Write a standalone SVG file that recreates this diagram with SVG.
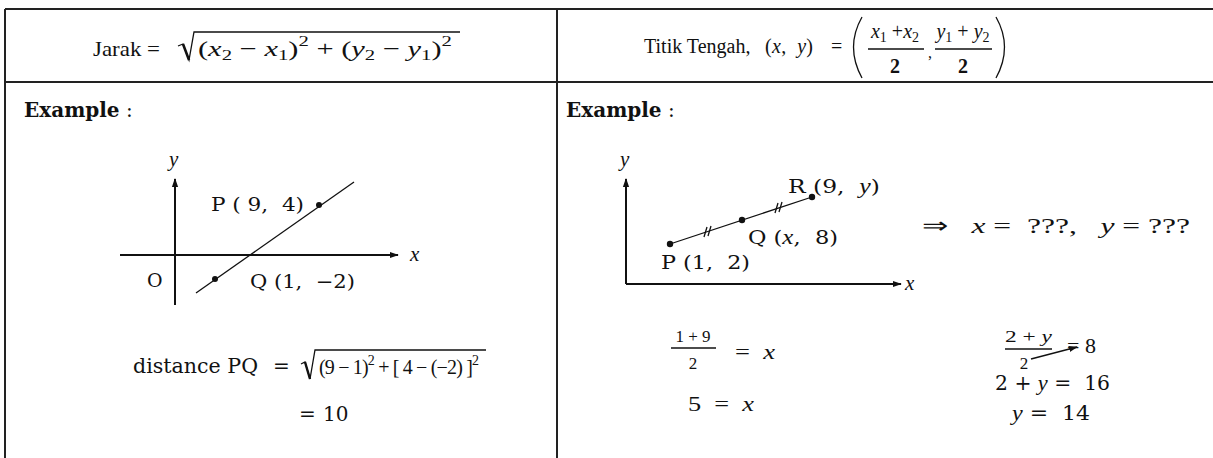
<svg xmlns="http://www.w3.org/2000/svg" width="1213" height="458" viewBox="0 0 1213 458">
<defs>
<style>
.t{font-family:"Liberation Serif","Times New Roman",serif;fill:#111;}
.d{font-family:"DejaVu Serif","Liberation Serif",serif;fill:#111;}
.i{font-style:italic;}
.b{font-weight:bold;}
.ln{stroke:#111;fill:none;stroke-width:1.3;}
.ax{stroke:#111;fill:none;stroke-width:2;}
.dot{fill:#111;}
</style>
<marker id="ah" viewBox="0 0 10 10" refX="9" refY="5" markerWidth="9" markerHeight="9" markerUnits="userSpaceOnUse" orient="auto"><path d="M0,1.5 L10,5 L0,8.5 Z" fill="#111"/></marker>
</defs>
<rect width="1213" height="458" fill="#fff"/>
<g id="table" stroke="#222" stroke-width="2" fill="none">
<path d="M5,9 H1213 M5,82 H1213 M5,9 V458 M557,9 V458"/>
</g>
<g id="jarak">
<text class="t" x="93" y="56" font-size="22" textLength="67" lengthAdjust="spacingAndGlyphs" xml:space="preserve">Jarak =</text>
<path class="ln" d="M178,46 L183,44 L189,60 L194,32 H460"/>
<path d="M183,44 L189,60" stroke="#111" stroke-width="2.6"/>
<text class="t" x="198" y="56" font-size="22" textLength="254" lengthAdjust="spacingAndGlyphs" xml:space="preserve">(<tspan class="i">x</tspan><tspan font-size="15" dy="4">2</tspan><tspan dy="-4"> − </tspan><tspan class="i">x</tspan><tspan font-size="15" dy="4">1</tspan><tspan dy="-4">)</tspan><tspan font-size="15" dy="-10">2</tspan><tspan dy="10"> + (</tspan><tspan class="i">y</tspan><tspan font-size="15" dy="4">2</tspan><tspan dy="-4"> − </tspan><tspan class="i">y</tspan><tspan font-size="15" dy="4">1</tspan><tspan dy="-4">)</tspan><tspan font-size="15" dy="-10">2</tspan></text>
</g>
<g id="titik">
<text class="t" x="644" y="53" font-size="20">Titik Tengah,</text>
<text class="t" x="765" y="53" font-size="20" textLength="48" lengthAdjust="spacing" xml:space="preserve">(<tspan class="i">x</tspan>,  <tspan class="i">y</tspan>)</text>
<text class="t" x="831" y="53" font-size="20">=</text>
<path class="ln" d="M862,17 Q845,47 862,78 M996,17 Q1013,47 996,78"/>
<text class="t" x="895" y="38" font-size="20" text-anchor="middle"><tspan class="i">x</tspan><tspan font-size="14" dy="4">1</tspan><tspan dy="-4"> +</tspan><tspan class="i">x</tspan><tspan font-size="14" dy="4">2</tspan></text>
<path class="ln" d="M868,49 H924 M935,49 H992"/>
<text class="t b" x="895" y="73" font-size="20" text-anchor="middle">2</text>
<text class="t" x="928" y="58" font-size="16">,</text>
<text class="t" x="963" y="38" font-size="20" text-anchor="middle"><tspan class="i">y</tspan><tspan font-size="14" dy="4">1</tspan><tspan dy="-4"> + </tspan><tspan class="i">y</tspan><tspan font-size="14" dy="4">2</tspan></text>
<text class="t b" x="963" y="73" font-size="20" text-anchor="middle">2</text>
</g>
<g id="example-left">
<text class="d" x="24" y="117" font-size="20" xml:space="preserve"><tspan class="b">Example</tspan> :</text>
</g>
<g id="graph-left">
<path class="ax" d="M175,305 V179" marker-end="url(#ah)"/>
<path class="ax" d="M120,255 H398" marker-end="url(#ah)"/>
<path class="ln" d="M196,293 L354,182"/>
<circle class="dot" cx="319" cy="205" r="3"/>
<circle class="dot" cx="215" cy="279" r="3"/>
<text class="t i" x="169" y="166" font-size="21">y</text>
<text class="t i" x="410" y="261" font-size="21">x</text>
<text class="d" x="147" y="287" font-size="19">O</text>
<text class="d" x="211" y="211" font-size="19" textLength="93" lengthAdjust="spacingAndGlyphs" xml:space="preserve">P ( 9,  4)</text>
<text class="d" x="250" y="288" font-size="19" textLength="105" lengthAdjust="spacingAndGlyphs" xml:space="preserve">Q (1,  −2)</text>
</g>
<g id="distance">
<text class="d" x="133" y="373" font-size="20" textLength="125" lengthAdjust="spacingAndGlyphs">distance PQ</text>
<text class="d" x="273" y="373" font-size="20">=</text>
<path class="ln" d="M301,364 L305,362 L310,379 L315,350 H486"/>
<path d="M305,362 L310,379" stroke="#111" stroke-width="2.4"/>
<text class="t" x="319" y="374" font-size="20" textLength="160" lengthAdjust="spacing" xml:space="preserve">(9 − 1)<tspan font-size="14" dy="-9">2</tspan><tspan dy="9"> + [ 4 − (−2) ]</tspan><tspan font-size="14" dy="-9">2</tspan></text>
<text class="d" x="299" y="421" font-size="20">=</text>
<text class="d" x="323" y="421" font-size="20">10</text>
</g>
<g id="example-right">
<text class="d" x="566" y="117" font-size="20" xml:space="preserve"><tspan class="b">Example</tspan> :</text>
</g>
<g id="graph-right">
<path class="ax" d="M626,284 V179" marker-end="url(#ah)"/>
<path class="ax" d="M626,284 H901" marker-end="url(#ah)"/>
<path class="ln" d="M670,244 L812,197"/>
<circle class="dot" cx="670" cy="244" r="3.2"/>
<circle class="dot" cx="742" cy="220" r="3.2"/>
<circle class="dot" cx="812" cy="197" r="3.2"/>
<path class="ln" d="M704,237 L707,227 M708,236 L711,226 M775,213 L778,203 M779,212 L782,202"/>
<text class="t i" x="620" y="166" font-size="21">y</text>
<text class="t i" x="905" y="290" font-size="21">x</text>
<text class="d" x="788" y="193" font-size="19" textLength="92" lengthAdjust="spacingAndGlyphs" xml:space="preserve">R (9,  <tspan class="t i" font-size="21">y</tspan>)</text>
<text class="d" x="748" y="244" font-size="19" textLength="90" lengthAdjust="spacingAndGlyphs" xml:space="preserve">Q (<tspan class="t i" font-size="21">x</tspan>,  8)</text>
<text class="d" x="661" y="269" font-size="19" textLength="89" lengthAdjust="spacingAndGlyphs" xml:space="preserve">P (1,  2)</text>
<text class="t" x="922" y="233" font-size="22" textLength="268" lengthAdjust="spacingAndGlyphs" xml:space="preserve">⇒   <tspan class="i">x</tspan> =  ???,   <tspan class="i">y</tspan> = ???</text>
</g>
<g id="solve-x">
<text class="t" x="693" y="342" font-size="17" text-anchor="middle" xml:space="preserve">1 + 9</text>
<path class="ln" d="M671,348 H716"/>
<text class="t" x="693" y="369" font-size="17" text-anchor="middle">2</text>
<text class="t" x="735" y="359" font-size="21" textLength="40" lengthAdjust="spacingAndGlyphs" xml:space="preserve">=  <tspan class="i">x</tspan></text>
<text class="t" x="688" y="411" font-size="21" textLength="66" lengthAdjust="spacingAndGlyphs" xml:space="preserve">5  =  <tspan class="i">x</tspan></text>
</g>
<g id="solve-y">
<text class="t" x="1005" y="342" font-size="17" textLength="47" lengthAdjust="spacingAndGlyphs" xml:space="preserve">2 + <tspan class="i">y</tspan></text>
<path class="ln" d="M1005,349 H1052"/>
<text class="t" x="1024" y="369" font-size="17" text-anchor="middle">2</text>
<text class="t" x="1067" y="353" font-size="22" xml:space="preserve">= 8</text>
<path class="ln" d="M1031,359 L1077,347" marker-end="url(#ah)"/>
<text class="d" x="995" y="390" font-size="20" textLength="115" lengthAdjust="spacingAndGlyphs" xml:space="preserve">2 + <tspan class="t i" font-size="22">y</tspan> =  16</text>
<text class="d" x="1012" y="420" font-size="20" textLength="78" lengthAdjust="spacingAndGlyphs" xml:space="preserve"><tspan class="t i" font-size="22">y</tspan> =  14</text>
</g>
</svg>
